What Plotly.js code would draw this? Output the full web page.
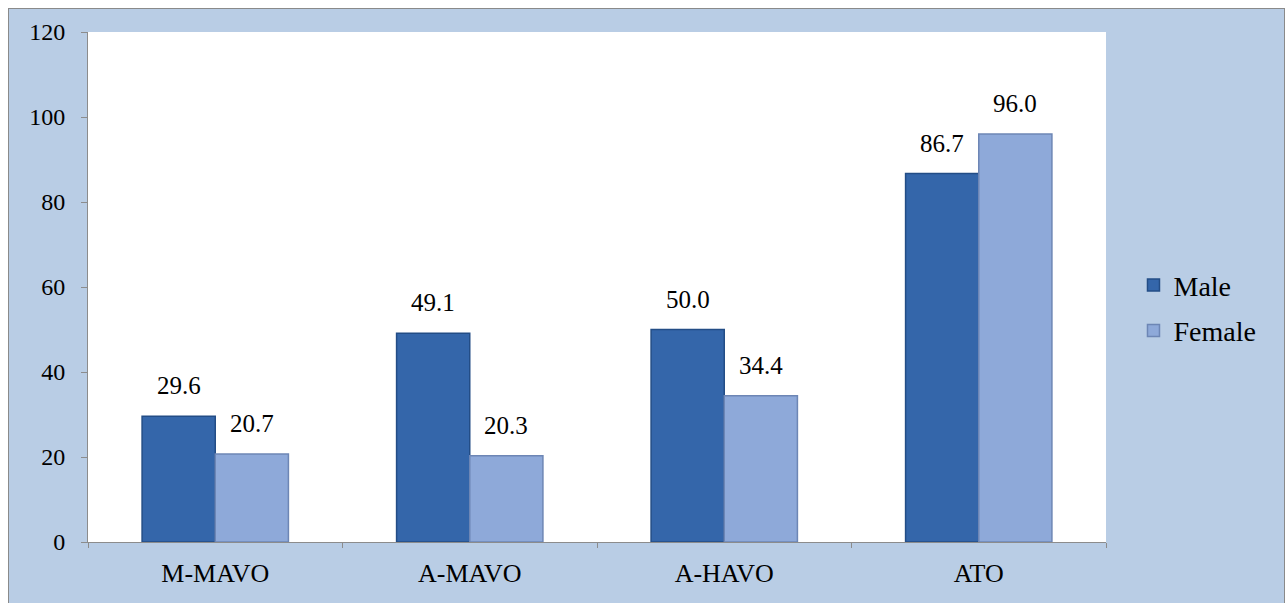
<!DOCTYPE html>
<html>
<head>
<meta charset="utf-8">
<script src="https://cdn.plot.ly/plotly-3.0.1.min.js"></script>
<style>
  html, body { margin: 0; padding: 0; background: #ffffff; width: 1285px; height: 603px; overflow: hidden; }
  #frame { position: absolute; left: 8px; top: 8px; width: 1275px; height: 600px; border: 1px solid #8a8a8a; border-bottom: none; background: #B9CDE5; }
  #chart { width: 1275px; height: 595px; }
</style>
</head>
<body>
<div id="frame"><div id="chart"></div></div>
<script>
const categories = ["M-MAVO", "A-MAVO", "A-HAVO", "ATO"];
const maleValues = [29.6, 49.1, 50.0, 86.7];
const femaleValues = [20.7, 20.3, 34.4, 96.0];
const yTicks = [0, 20, 40, 60, 80, 100, 120];

const serif = "Liberation Serif";
const labelFont = {family: serif, size: 25, color: "#000"};

const traces = [
  {
    type: "bar", name: "Male", x: categories, y: maleValues,
    legendgroup: "m",
    marker: {color: "#3466AA", line: {color: "#234d86", width: 1.5}}
  },
  {
    type: "bar", name: "Female", x: categories, y: femaleValues,
    legendgroup: "f",
    marker: {color: "#8EA9D9", line: {color: "#6d86b5", width: 1.5}}
  }
];

const annotations = [];
categories.forEach((c, i) => {
  annotations.push({x: c, y: maleValues[i], xref: "x", yref: "y", text: maleValues[i].toFixed(1),
    showarrow: false, yanchor: "bottom", xshift: -36.5, yshift: 15, font: labelFont});
  annotations.push({x: c, y: femaleValues[i], xref: "x", yref: "y", text: femaleValues[i].toFixed(1),
    showarrow: false, yanchor: "bottom", xshift: 36.5, yshift: 15, font: labelFont});
});

const layout = {
  width: 1275, height: 595,
  margin: {l: 79, r: 178, t: 23, b: 62},
  paper_bgcolor: "#B9CDE5",
  plot_bgcolor: "#ffffff",
  font: {family: serif, color: "#000"},
  barmode: "group",
  bargap: 0.425,
  bargroupgap: 0,
  showlegend: true,
  legend: {
    x: 1.027, y: 0.459, xanchor: "left", yanchor: "middle",
    font: {family: serif, size: 28, color: "#000"},
    bgcolor: "rgba(0,0,0,0)", traceorder: "grouped", tracegroupgap: 6, itemwidth: 30
  },
  annotations: annotations,
  xaxis: {
    type: "category",
    showline: true, linecolor: "#8c8c8c", linewidth: 1,
    ticks: "outside", tickson: "boundaries", ticklen: 5, tickcolor: "#8c8c8c",
    tickfont: {family: serif, size: 26, color: "#000"},
    ticklabelstandoff: 8,
    showgrid: false, zeroline: false
  },
  yaxis: {
    range: [0, 120], tickvals: yTicks,
    showline: true, linecolor: "#8c8c8c", linewidth: 1,
    ticks: "outside", ticklen: 6, tickcolor: "#8c8c8c",
    tickfont: {family: serif, size: 24, color: "#000"},
    ticklabelstandoff: 11,
    showgrid: false, zeroline: false
  }
};

Plotly.newPlot("chart", traces, layout, {displayModeBar: false, staticPlot: true});
</script>
</body>
</html>
